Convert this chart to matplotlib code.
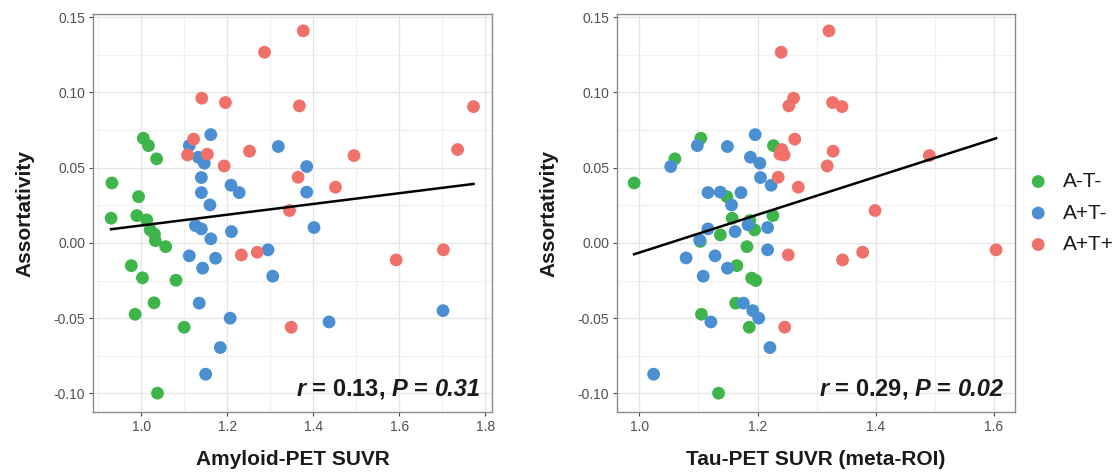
import numpy as np
import matplotlib
matplotlib.use("Agg")
import matplotlib.pyplot as plt
from matplotlib.ticker import MultipleLocator

plt.rcParams['font.family'] = ['Liberation Sans', 'DejaVu Sans']
plt.rcParams['mathtext.fontset'] = 'custom'
plt.rcParams['mathtext.it'] = 'Liberation Sans:italic:bold'
plt.rcParams['mathtext.rm'] = 'Liberation Sans:bold'
plt.rcParams['mathtext.bf'] = 'Liberation Sans:bold'

groups = ["A-T-", "A+T-", "A+T+"]
colors = {"A-T-": "#3DB54A", "A+T-": "#4A8FD2", "A+T+": "#F0716A"}

# ---- Panel 1: Amyloid-PET SUVR ----
amy_x_neg = [1.005, 1.017, 1.036, 0.932, 0.994, 0.930, 0.990, 1.013, 1.021, 1.031,
             1.033, 1.057, 0.977, 1.003, 1.081, 1.030, 0.986, 1.100, 1.038]
amy_y_neg = [0.0695, 0.0646, 0.0558, 0.0398, 0.0307, 0.0164, 0.0181, 0.0153, 0.0086, 0.0058,
             0.0015, -0.0025, -0.0151, -0.0232, -0.0248, -0.0398, -0.0474, -0.0560, -0.0998]

amy_x_apt = [1.162, 1.112, 1.319, 1.133, 1.147, 1.385, 1.140, 1.209, 1.228, 1.140,
             1.385, 1.160, 1.126, 1.140, 1.210, 1.402, 1.162, 1.295, 1.112, 1.173,
             1.143, 1.306, 1.135, 1.207, 1.437, 1.702, 1.184, 1.150]
amy_y_apt = [0.0719, 0.0646, 0.0640, 0.0569, 0.0529, 0.0507, 0.0434, 0.0383, 0.0334, 0.0334,
             0.0337, 0.0252, 0.0115, 0.0093, 0.0075, 0.0102, 0.0027, -0.0046, -0.0086, -0.0102,
             -0.0168, -0.0221, -0.0400, -0.0500, -0.0525, -0.0450, -0.0695, -0.0872]

amy_x_pos = [1.377, 1.287, 1.141, 1.196, 1.368, 1.773, 1.122, 1.108, 1.154, 1.252,
             1.193, 1.495, 1.736, 1.365, 1.452, 1.345, 1.233, 1.270, 1.593, 1.703, 1.349]
amy_y_pos = [0.1408, 0.1266, 0.0961, 0.0932, 0.0910, 0.0905, 0.0689, 0.0584, 0.0589, 0.0609,
             0.0511, 0.0580, 0.0620, 0.0436, 0.0370, 0.0215, -0.0080, -0.0062, -0.0113, -0.0046, -0.0560]

# ---- Panel 2: Tau-PET SUVR (meta-ROI) ----
tau_x_neg = [1.104, 1.227, 1.060, 0.991, 1.148, 1.157, 1.187, 1.226, 1.137, 1.103,
             1.182, 1.165, 1.190, 1.197, 1.163, 1.105, 1.186, 1.134, 1.195]
tau_y_neg = [0.0695, 0.0646, 0.0558, 0.0398, 0.0307, 0.0164, 0.0148, 0.0181, 0.0053, 0.0010,
             -0.0025, -0.0151, -0.0234, -0.0250, -0.0400, -0.0474, -0.0560, -0.0998, 0.0086]

tau_x_apt = [1.196, 1.098, 1.149, 1.188, 1.204, 1.053, 1.205, 1.223, 1.116, 1.137,
             1.172, 1.156, 1.116, 1.162, 1.184, 1.217, 1.102, 1.217, 1.079, 1.128,
             1.149, 1.108, 1.176, 1.192, 1.202, 1.121, 1.221, 1.024]
tau_y_apt = [0.0719, 0.0646, 0.0640, 0.0569, 0.0529, 0.0507, 0.0434, 0.0383, 0.0334, 0.0337,
             0.0334, 0.0252, 0.0093, 0.0075, 0.0120, 0.0102, 0.0020, -0.0046, -0.0100, -0.0086,
             -0.0168, -0.0221, -0.0400, -0.0450, -0.0500, -0.0525, -0.0695, -0.0872]

tau_x_pos = [1.321, 1.240, 1.261, 1.253, 1.327, 1.343, 1.263, 1.241, 1.245, 1.238,
             1.328, 1.318, 1.491, 1.235, 1.269, 1.399, 1.252, 1.344, 1.378, 1.604, 1.246]
tau_y_pos = [0.1408, 0.1266, 0.0961, 0.0910, 0.0932, 0.0905, 0.0689, 0.0620, 0.0584, 0.0589,
             0.0609, 0.0511, 0.0580, 0.0436, 0.0370, 0.0215, -0.0080, -0.0113, -0.0062, -0.0046, -0.0560]

stats_main = [r"$r$ = 0.13, $P$ =", r"$r$ = 0.29, $P$ ="]
stats_pval = ["0.31", "0.02"]
xlabels = ["Amyloid-PET SUVR", "Tau-PET SUVR (meta-ROI)"]
ylabel = "Assortativity"
x_ticks = [[1.0, 1.2, 1.4, 1.6, 1.8], [1.0, 1.2, 1.4, 1.6]]
y_ticks = [-0.10, -0.05, 0.00, 0.05, 0.10, 0.15]

panels = [
    {"A-T-": (amy_x_neg, amy_y_neg), "A+T-": (amy_x_apt, amy_y_apt), "A+T+": (amy_x_pos, amy_y_pos)},
    {"A-T-": (tau_x_neg, tau_y_neg), "A+T-": (tau_x_apt, tau_y_apt), "A+T+": (tau_x_pos, tau_y_pos)},
]
xlims = [(0.888, 1.816), (0.962, 1.636)]
ylim = (-0.1123, 0.152)

W, H = 1116, 474
fig = plt.figure(figsize=(W / 100, H / 100), dpi=100)
axes_px = [(93, 14, 492, 412), (617, 14, 1015, 412)]
renderer = fig.canvas.get_renderer()

for i, (pdata, (x0, y0, x1, y1)) in enumerate(zip(panels, axes_px)):
    ax = fig.add_axes([x0 / W, 1 - y1 / H, (x1 - x0) / W, (y1 - y0) / H])
    ax.set_xlim(*xlims[i])
    ax.set_ylim(*ylim)
    ax.set_xticks(x_ticks[i])
    ax.set_xticklabels([f"{t:.1f}" for t in x_ticks[i]])
    ax.set_yticks(y_ticks)
    ax.set_yticklabels([f"{t:.2f}" for t in y_ticks])
    ax.xaxis.set_minor_locator(MultipleLocator(0.1))
    ax.yaxis.set_minor_locator(MultipleLocator(0.025))
    ax.grid(which='major', color='#e6e6e6', linewidth=1.0, zorder=0)
    ax.grid(which='minor', color='#f0f0f0', linewidth=0.8, zorder=0)
    ax.set_axisbelow(True)
    ax.tick_params(which='minor', length=0)
    ax.tick_params(which='major', length=3, width=0.8, color='#4d4d4d',
                   labelcolor='#505050', labelsize=10, pad=2.5)
    for sp in ax.spines.values():
        sp.set_color('#8a8a8a')
        sp.set_linewidth(1.0)

    allx, ally = [], []
    for g in groups:
        xs, ys = pdata[g]
        ax.scatter(xs, ys, s=85, color=colors[g], edgecolors='none', zorder=3, label=g)
        allx += xs
        ally += ys
    allx = np.array(allx)
    ally = np.array(ally)
    slope, intercept = np.polyfit(allx, ally, 1)
    xx = np.array([allx.min(), allx.max()])
    ax.plot(xx, slope * xx + intercept, color='black', linewidth=1.8, zorder=4)

    # stats annotation: italic p-value at right, rest to its left
    tv = ax.text(0.97, 0.057, stats_pval[i], transform=ax.transAxes, ha='right', va='center',
                 fontsize=17, fontweight='bold', fontstyle='italic', color='#1a1a1a', zorder=5)
    bb = tv.get_window_extent(renderer=renderer)
    x_left_axes = ax.transAxes.inverted().transform((bb.x0 - 6, bb.y0))[0]
    ax.text(x_left_axes, 0.057, stats_main[i], transform=ax.transAxes, ha='right', va='center',
            fontsize=17, fontweight='bold', color='#1a1a1a', zorder=5)

    ax.set_xlabel(xlabels[i], fontsize=15, fontweight='bold', labelpad=12, color='#1a1a1a')
    ax.set_ylabel(ylabel, fontsize=15, fontweight='bold', labelpad=14, color='#1a1a1a')

    if i == 1:
        leg = ax.legend(loc='center left', bbox_to_anchor=(0.985, 0.5), frameon=False,
                        fontsize=15, handletextpad=0.7, labelspacing=0.6,
                        markerscale=1.0, scatterpoints=1, handlelength=1.0)
        for t in leg.get_texts():
            t.set_color('#1a1a1a')

fig.savefig("out.png", dpi=100)
